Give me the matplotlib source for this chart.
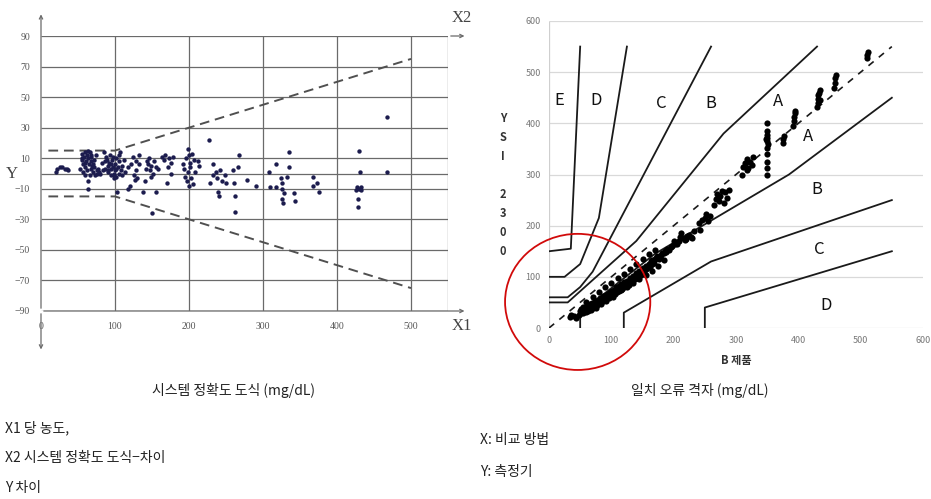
import matplotlib.pyplot as plt
from matplotlib.patches import Ellipse

plt.rcParams['font.family'] = ['Noto Sans CJK KR', 'DejaVu Sans']

# left chart: system accuracy plot (difference vs glucose)
acc_x = [20, 22, 25, 28, 32, 35, 37,
         53, 55, 55, 57, 57, 58, 59, 60, 60, 61, 62, 62, 63, 64, 64, 65, 66, 66, 67, 68, 68, 69, 70, 71, 72, 73, 75, 76, 78, 80,
         56, 59, 63, 67, 70, 74, 77, 82, 84,
         85, 86, 87, 88, 90, 90, 92, 93, 94, 95, 96, 97, 98, 99, 100, 100, 101, 102, 103, 104, 105, 106, 107, 108, 110, 112, 113,
         89, 91, 94, 97, 99, 102, 105, 109,
         117, 118, 120, 122, 124, 125, 127, 128, 129, 130, 132, 133,
         138, 140, 142, 143, 145, 146, 147, 148, 149, 150, 152, 153, 155, 156, 158,
         163, 166, 168, 170, 171, 173, 175, 176, 178,
         192, 193, 195, 196, 197, 198, 198, 200, 200, 201, 202, 203, 204, 205, 207, 208, 212, 214,
         227, 228, 232, 233, 236, 238, 239, 240, 242, 245, 248, 250,
         260, 261, 262, 262, 266, 267, 279, 290,
         308, 309, 317, 318, 324, 325, 326, 326, 327, 328, 333, 335, 335, 342, 343,
         367, 368, 373, 375,
         425, 427, 428, 429, 430, 430, 431, 432, 433, 467, 467]
acc_y = [1, 3, 4, 4, 3, 3, 2,
         3, 13, 9, 6, 1, 11, 14, 4, -1, 8, 12, 2, -5, -10, 10, 6, 14, -1, 3, 8, 12, 5, 1, 9, 4, -1, 2, 0, 1, 0,
         10, 7, 15, 11, 6, 12, 3, 7, 2,
         14, 8, 3, 11, 5, 1, 7, 12, 3, -1, 9, 4, 0, -3, 6, 2, -2, 10, -12, 4, 0, 8, 14, 2, 5, 9, 1,
         9, 2, 6, 11, -1, 3, 12, -1,
         4, -10, -8, 6, 11, -1, -4, 2, 8, -3, 12, 6,
         -12, -5, 3, 8, 6, 10, 2, 5, -2, -26, 0, 8, -12, 4, 3,
         11, 9, 12, -6, 4, 10, 7, 0, 11,
         6, 3, -2, 10, -5, 16, 1, -8, 12, 7, 4, -3, 13, -7, 9, 1, 8, 5,
         22, -6, 6, -1, 1, -3, -12, -15, 2, -5, -1, -6,
         2, -6, -15, -25, 4, 12, -4, -8,
         1, -9, -9, 6, -3, -6, -10, -17, -19, -13, -2, 14, 4, -13, -18,
         -2, -8, -6, -12,
         -11, -9, -17, -22, 15, -10, 1, -11, -9, 37, 1]

acc_hgrid = [90, 70, 50, 30, 10, 0, -10, -30, -50, -70, -90]
acc_vgrid = [100, 200, 300, 400, 500, 550]
acc_xticks = [0, 100, 200, 300, 400, 500]
acc_yticks = [90, 70, 50, 30, 10, -10, -30, -50, -70, -90]
# dashed accuracy limits
lim_x = [10, 100, 500]
lim_up = [15, 15, 75]
lim_low = [-15, -15, -75]

# right chart: error grid
grid_zones = [
    ([0, 35, 50], [150, 155, 550]),
    ([0, 25, 50, 80, 125], [100, 100, 125, 215, 550]),
    ([0, 30, 50, 70, 260], [60, 60, 80, 110, 550]),
    ([0, 30, 140, 280, 430], [50, 50, 170, 380, 550]),
    ([50, 50, 170, 385, 550], [0, 30, 145, 300, 450]),
    ([120, 120, 260, 550], [0, 30, 130, 250]),
    ([250, 250, 550], [0, 40, 150]),
]
zone_names = ['E', 'D', 'C', 'B', 'A', 'A', 'B', 'C', 'D']
zone_x = [17, 76, 180, 260, 368, 415, 430, 433, 445]
zone_y = [445, 445, 438, 438, 442, 375, 270, 153, 44]

peg_x = [33, 36, 40, 43, 48,
         50, 52, 54, 55, 57, 58, 60, 61, 62, 64, 65, 66, 68, 69, 70, 72, 73, 74, 76, 77, 78, 80, 81, 82, 84, 85, 87, 88,
         90, 91, 93, 95, 96, 98, 100, 101, 103, 105, 107, 108, 110, 112, 114, 116, 118, 120, 122, 125, 127, 130, 132,
         135, 137, 140, 142, 145, 148, 150, 153, 156, 160, 163, 166, 170, 174, 178, 182, 186, 190, 195, 200, 205,
         210, 212, 218, 222, 228, 232,
         52, 56, 59, 63, 67, 71, 75, 79, 83, 86, 89, 92, 94, 97, 99, 102, 104, 106, 109, 111, 113, 115, 117, 119,
         121, 124, 128, 131, 134, 138, 141, 144, 147, 152, 155, 158, 162, 165, 168, 172, 176, 180, 184, 188, 192,
         198, 202, 208, 215, 220, 225, 230,
         60, 70, 80, 90, 100, 110, 120, 130, 140, 150, 160, 170,
         65, 75, 85, 95, 105, 115, 125, 135, 145, 155, 165, 175, 185,
         240, 242, 245, 250, 252, 255, 258,
         265, 268, 270, 272, 275, 277, 280, 282, 285, 288,
         310, 312, 315, 317, 318, 320, 322, 325, 328,
         350, 350, 350, 350, 350, 350, 350, 350, 350, 350, 352, 348,
         375, 376, 377,
         392, 393, 393, 394, 395,
         430, 431, 432, 432, 433, 434, 435,
         458, 459, 459, 460,
         510, 510, 511]
peg_y = [22, 25, 24, 20, 26,
         33, 38, 30, 42, 35, 40, 37, 44, 33, 41, 46, 38, 43, 49, 40, 47, 52, 43, 50, 45, 55, 48, 53, 58, 51, 56, 62, 54,
         60, 65, 58, 66, 62, 70, 64, 72, 68, 75, 71, 80, 74, 82, 78, 86, 81, 90, 85, 92, 88, 97, 93,
         102, 98, 108, 103, 112, 108, 118, 114, 122, 125, 130, 126, 135, 140, 138, 146, 150, 155, 158, 170, 165,
         178, 185, 172, 180, 178, 190,
         30, 36, 32, 38, 35, 42, 40, 46, 47, 52, 55, 53, 60, 58, 62, 60, 70, 66, 70, 76, 72, 80, 76, 84,
         80, 86, 84, 90, 96, 95, 100, 106, 104, 110, 116, 118, 120, 132, 128, 136, 134, 142, 146, 148, 152,
         160, 164, 170, 176, 174, 182, 176,
         50, 60, 70, 80, 88, 98, 106, 116, 126, 134, 144, 152,
         38, 45, 52, 60, 66, 74, 80, 88, 96, 104, 112, 122, 132,
         205, 192, 212, 215, 222, 210, 218,
         240, 252, 262, 248, 258, 268, 245, 265, 255, 270,
         300, 315, 322, 308, 330, 312, 325, 318, 335,
         300, 312, 325, 340, 352, 365, 372, 378, 385, 400, 360, 370,
         362, 370, 375,
         395, 405, 412, 420, 425,
         432, 440, 448, 455, 460, 445, 465,
         470, 478, 488, 495,
         527, 533, 540]

fig = plt.figure(figsize=(9.31, 4.99), dpi=100)

# ---- left chart ----
ax1 = fig.add_axes([41 / 931, 1 - 311 / 499, 407 / 931, 275 / 499])
ax1.set_xlim(0, 550)
ax1.set_ylim(-90, 90)
for s in ax1.spines.values():
    s.set_visible(False)
ax1.hlines(acc_hgrid, 0, 550, color='#6a6a6a', lw=0.9, zorder=1)
ax1.vlines(acc_vgrid, -90, 90, color='#6a6a6a', lw=0.9, zorder=1)
ax1.plot(lim_x, lim_up, '--', color='#505050', lw=1.4, dashes=(5, 3), zorder=2)
ax1.plot(lim_x, lim_low, '--', color='#505050', lw=1.4, dashes=(5, 3), zorder=2)
ax1.scatter(acc_x, acc_y, s=10, color='#1c1c4e', zorder=3, linewidths=0)

arrow = dict(arrowstyle='->', color='#6a6a6a', lw=0.9, mutation_scale=6)
ax1.annotate('', xy=(576, -90), xytext=(0, -90), arrowprops=arrow, annotation_clip=False)
ax1.annotate('', xy=(576, 90), xytext=(550, 90), arrowprops=arrow, annotation_clip=False)
ax1.annotate('', xy=(0, 106), xytext=(0, -90), arrowprops=arrow, annotation_clip=False)
ax1.annotate('', xy=(0, -117), xytext=(0, -90), arrowprops=arrow, annotation_clip=False)

ax1.set_xticks(acc_xticks)
ax1.set_yticks(acc_yticks)
ax1.tick_params(length=0, labelsize=7, labelcolor='#555555', pad=8)
for lab in ax1.get_xticklabels() + ax1.get_yticklabels():
    lab.set_family('Liberation Serif')
ax1.text(-39, 0, 'Y', fontsize=12, family='Liberation Serif', color='#444444', ha='center', va='center')
ax1.text(569, -100, 'X1', fontsize=12, family='Liberation Serif', color='#444444', ha='center', va='center')
ax1.text(569, 102, 'X2', fontsize=12, family='Liberation Serif', color='#444444', ha='center', va='center')

# ---- right chart ----
ax2 = fig.add_axes([549 / 931, 1 - 328 / 499, 374 / 931, 307 / 499])
ax2.set_xlim(0, 600)
ax2.set_ylim(0, 600)
for s in ax2.spines.values():
    s.set_visible(False)
ax2.hlines([0, 100, 200, 300, 400, 500, 600], 0, 600, color='#d9d9d9', lw=0.9, zorder=1)
ax2.vlines([0], 0, 600, color='#cfcfcf', lw=0.9, zorder=1)
for zx, zy in grid_zones:
    ax2.plot(zx, zy, color='#1a1a1a', lw=1.3, zorder=2)
ax2.plot([0, 550], [0, 550], color='#1a1a1a', lw=1.2, dashes=(4, 4), zorder=2)
ax2.scatter(peg_x, peg_y, s=20, color='black', zorder=3, linewidths=0)
for name, tx, ty in zip(zone_names, zone_x, zone_y):
    ax2.text(tx, ty, name, fontsize=12, ha='center', va='center', color='#111111')

ax2.set_xticks([0, 100, 200, 300, 400, 500, 600])
ax2.set_yticks([0, 100, 200, 300, 400, 500, 600])
ax2.tick_params(length=0, labelsize=6.5, labelcolor='#777777', pad=6)
ax2.set_xlabel('B 제품', fontsize=8, fontweight='bold', color='#333333', labelpad=6)
ax2.text(-74, 422, 'Y\nS\nI\n\n2\n3\n0\n0', fontsize=8, fontweight='bold', color='#333333',
         ha='center', va='top', linespacing=1.6)

# red circle highlighting the low range
ring = Ellipse((46, 51), 233, 266, fill=False, edgecolor='#d10a0a', lw=1.3, clip_on=False, zorder=4)
ax2.add_patch(ring)

# ---- captions ----
fig.text(233 / 931, 1 - 390 / 499, '시스템 정확도 도식 (mg/dL)', fontsize=10, ha='center', va='center', color='#222222')
fig.text(700 / 931, 1 - 390 / 499, '일치 오류 격자 (mg/dL)', fontsize=10, ha='center', va='center', color='#222222')
fig.text(5 / 931, 1 - 428 / 499, 'X1 당 농도,', fontsize=10, ha='left', va='center', color='#222222')
fig.text(5 / 931, 1 - 458 / 499, 'X2 시스템 정확도 도식−차이', fontsize=10, ha='left', va='center', color='#222222')
fig.text(5 / 931, 1 - 488 / 499, 'Y 차이', fontsize=10, ha='left', va='center', color='#222222')
fig.text(480 / 931, 1 - 440 / 499, 'X: 비교 방법', fontsize=10, ha='left', va='center', color='#222222')
fig.text(480 / 931, 1 - 472 / 499, 'Y: 측정기', fontsize=10, ha='left', va='center', color='#222222')

fig.savefig('out.png', dpi=100)
